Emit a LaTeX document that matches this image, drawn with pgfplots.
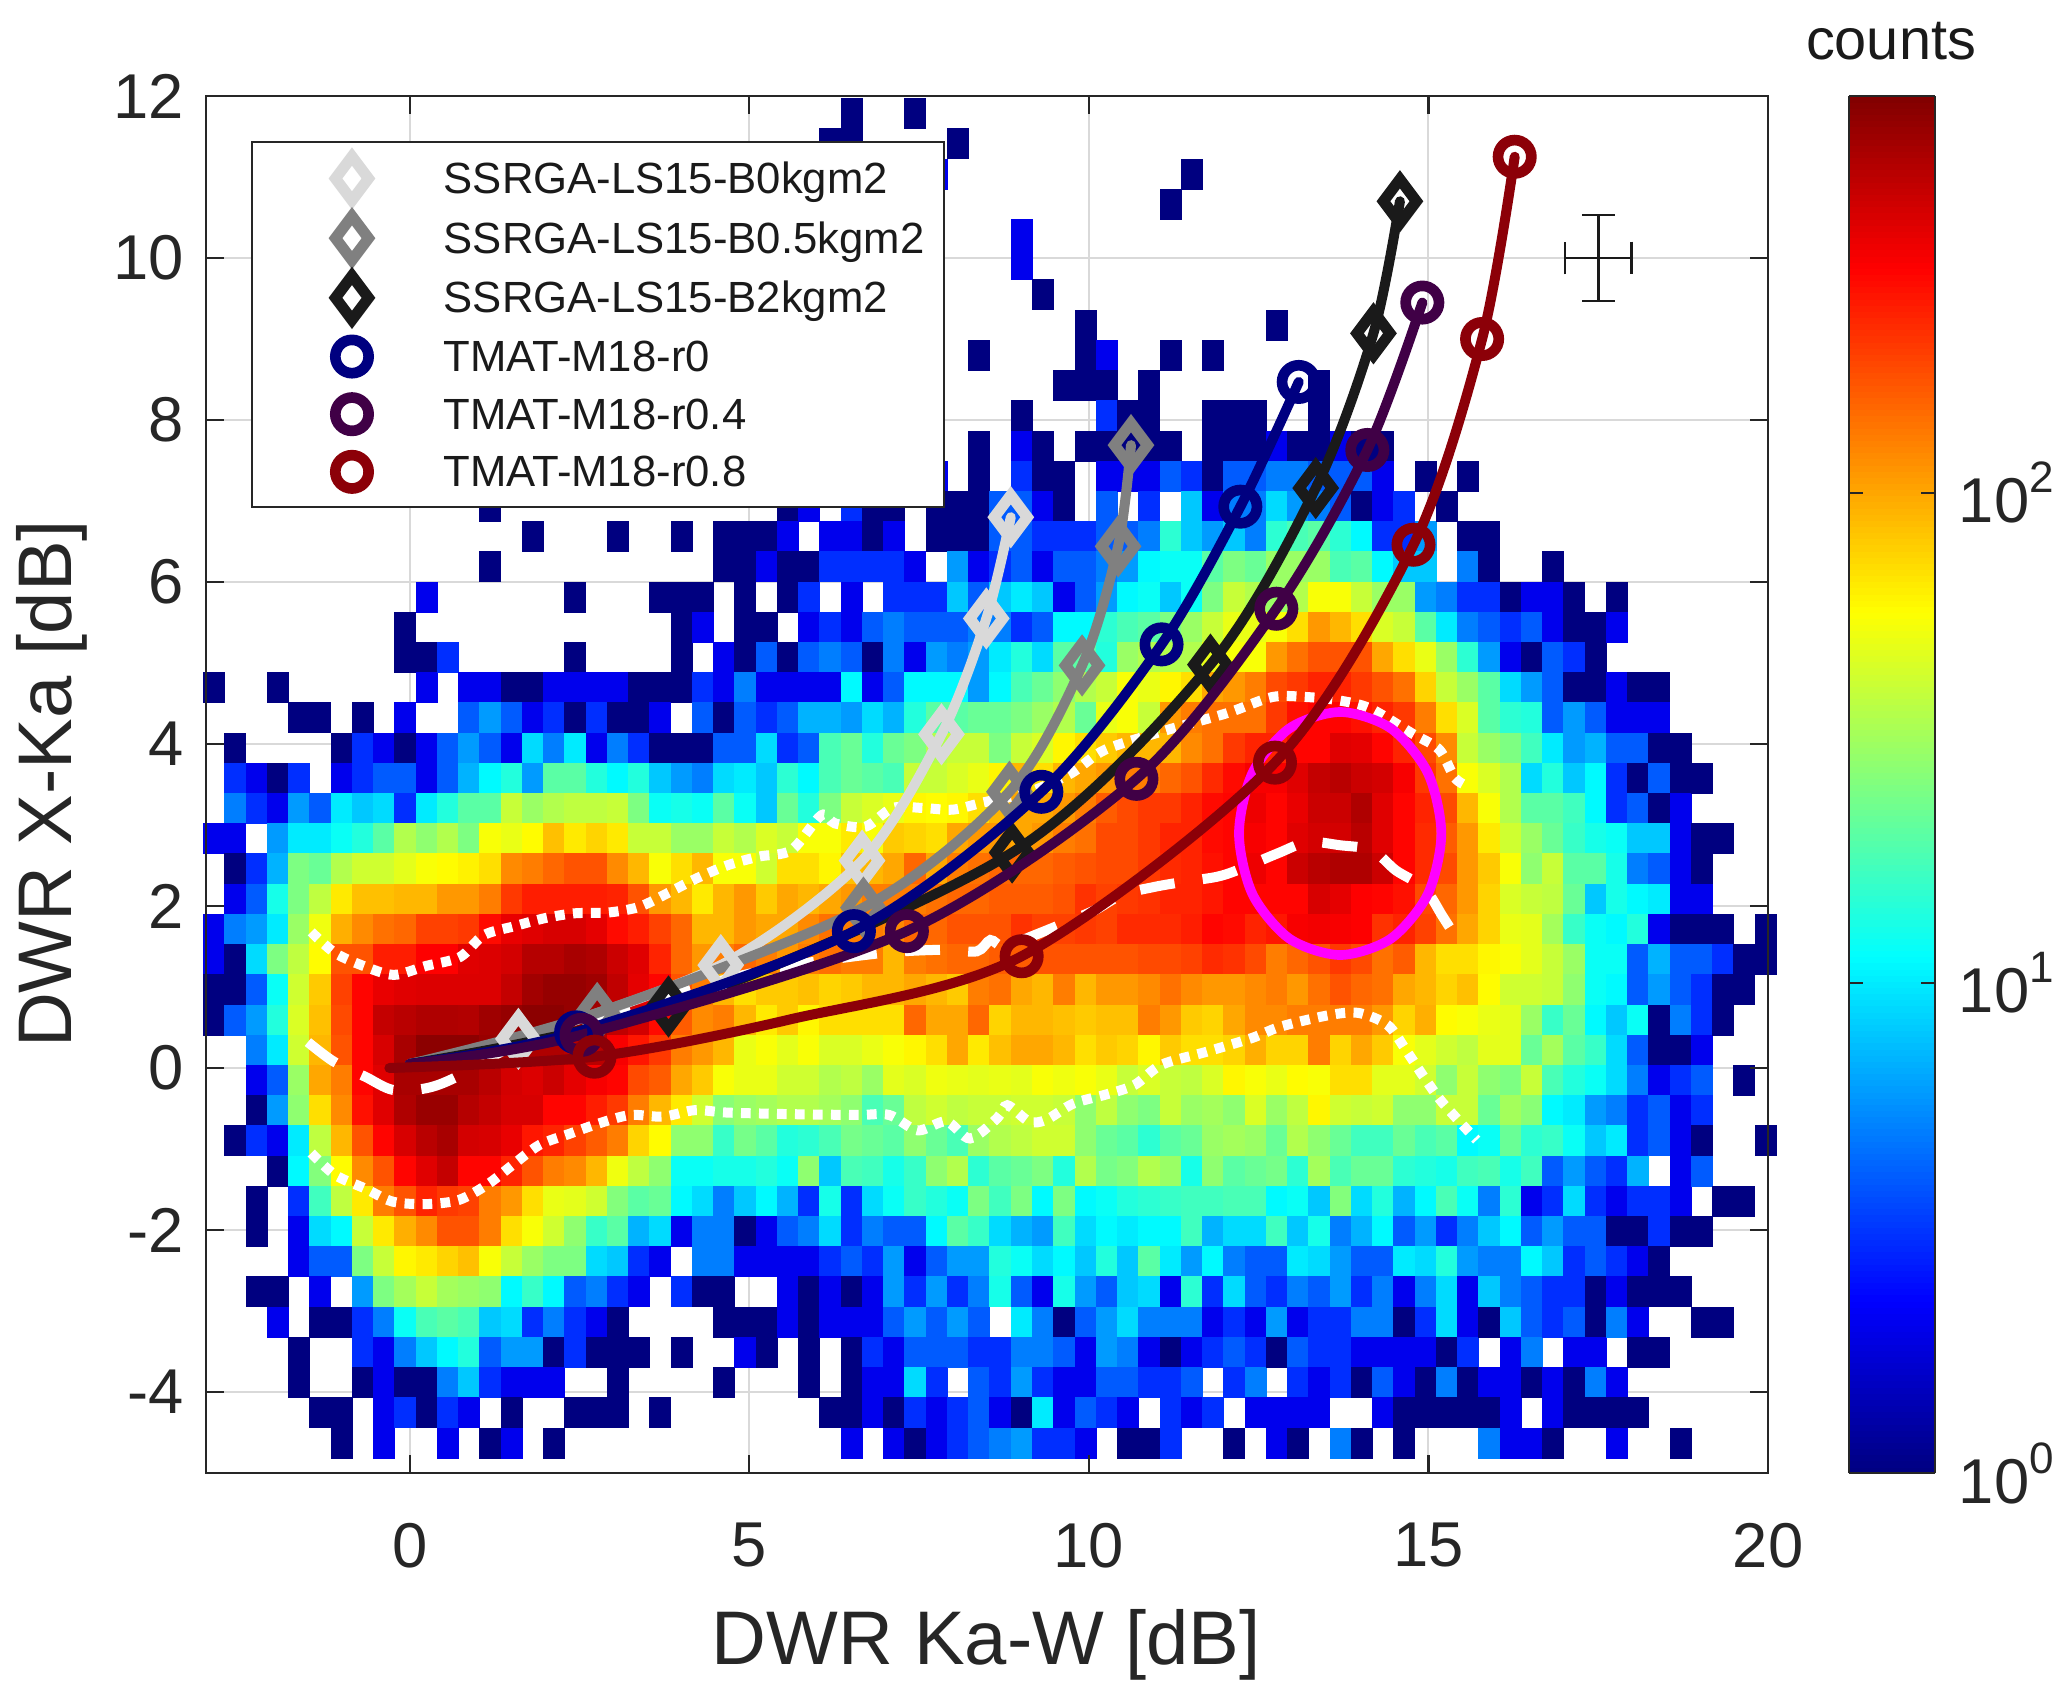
\documentclass[border=0pt]{standalone}
\usepackage{fontspec}
\setmainfont{Liberation Sans}
\usepackage{pgfplots}
\usepackage{pgfplotstable}
\pgfplotsset{compat=1.18}
\definecolor{lgray}{RGB}{217,217,217}
\definecolor{mgray}{RGB}{128,128,128}
\definecolor{kgray}{RGB}{26,26,26}
\definecolor{navyc}{RGB}{0,0,128}
\definecolor{purpc}{RGB}{64,0,70}
\definecolor{redc}{RGB}{140,0,8}
\definecolor{pinkc}{RGB}{255,0,255}
\definecolor{txt}{RGB}{38,38,38}
\pgfdeclareplotmark{cell}{\pgfpathrectangle{\pgfqpoint{-3.3pt}{-4.65pt}}{\pgfqpoint{6.6pt}{9.3pt}}\pgfusepathqfill}
% counts per bin: first column is the y centre, then 74 bins of DWR Ka-W
\pgfplotstableread{
12.155 0 0 0 0 0 0 0 0 0 0  0 0 0 0 0 0 0 0 0 0  0 0 0 0 0 0 0 0 0 0  0 0 0 0 0 0 0 0 0 0  0 0 0 0 0 0 0 1 0 0  0 0 0 0 0 0 0 0 0 0  0 0 0 0 0 0 0 0 0 0  0 0 0 0
11.782 0 0 0 0 0 0 0 0 0 0  0 0 0 0 0 0 0 0 0 0  0 0 0 0 0 0 0 0 0 0  1 0 0 1 0 0 0 0 0 0  0 0 0 0 0 0 0 0 0 0  0 0 0 0 0 0 0 0 0 0  0 0 0 0 0 0 0 0 0 0  0 0 0 0
11.409 0 0 0 0 0 0 0 0 0 0  0 0 0 0 0 0 0 0 0 0  0 0 0 0 0 0 0 0 0 1  1 0 0 0 0 1 0 0 0 0  0 0 0 0 0 0 0 0 0 0  0 0 0 0 0 0 0 0 0 0  0 0 0 0 0 0 0 0 0 0  0 0 0 0
11.036 0 0 0 0 0 0 0 0 0 0  0 0 0 0 0 0 0 0 0 0  0 0 0 0 0 0 0 0 0 0  0 0 0 0 2 0 0 0 0 0  0 0 0 0 0 0 1 0 0 0  0 0 0 0 0 0 0 0 0 0  0 0 0 0 0 0 0 0 0 0  0 0 0 0
10.663 0 0 0 0 0 0 0 0 0 0  0 0 0 0 0 0 0 0 0 0  0 0 0 0 0 0 0 0 0 0  0 0 0 0 0 0 0 0 0 0  0 0 0 0 0 1 0 0 0 0  0 0 0 0 0 0 0 0 0 0  0 0 0 0 0 0 0 0 0 0  0 0 0 0
10.290 0 0 0 0 0 0 0 0 0 0  0 0 0 0 0 0 0 0 0 0  0 0 0 0 0 0 0 0 0 0  0 0 0 0 0 0 0 0 2 0  0 0 0 0 0 0 0 0 0 0  0 0 0 0 0 0 0 0 0 0  0 0 0 0 0 0 0 0 0 0  0 0 0 0
9.917 0 0 0 0 0 0 0 0 0 0  0 0 0 0 0 0 0 0 0 0  0 0 0 0 0 0 0 0 0 0  0 0 0 0 0 0 0 0 2 0  0 0 0 0 0 0 0 0 0 0  0 0 0 0 0 0 0 0 0 0  0 0 0 0 0 0 0 0 0 0  0 0 0 0
9.544 0 0 0 0 0 0 0 0 0 0  0 0 0 0 0 0 0 0 0 0  0 0 0 0 0 0 0 0 0 0  0 0 0 0 0 0 0 0 0 1  0 0 0 0 0 0 0 0 0 0  0 0 0 0 0 0 0 0 0 0  0 0 0 0 0 0 0 0 0 0  0 0 0 0
9.171 0 0 0 0 0 0 0 0 0 0  0 0 0 0 0 0 0 0 0 0  0 0 0 0 0 0 0 0 0 0  0 0 0 0 0 0 0 0 0 0  0 1 0 0 0 0 0 0 0 0  1 0 0 0 0 0 0 0 0 0  0 0 0 0 0 0 0 0 0 0  0 0 0 0
8.798 0 0 0 0 0 0 0 0 0 0  0 0 0 0 0 0 0 0 0 0  0 0 0 0 0 0 0 0 0 0  0 0 0 0 0 0 1 0 0 0  0 1 2 0 0 1 0 1 0 0  0 0 0 0 0 0 0 0 0 0  0 0 0 0 0 0 0 0 0 0  0 0 0 0
8.425 0 0 0 0 0 0 0 0 0 0  0 0 0 0 0 0 0 0 0 0  0 0 0 0 0 0 0 0 0 0  0 0 0 0 0 0 0 0 0 0  1 1 1 0 1 0 0 0 0 0  0 0 1 0 0 0 0 0 0 0  0 0 0 0 0 0 0 0 0 0  0 0 0 0
8.052 0 0 0 0 0 0 0 0 0 0  0 0 0 0 0 0 0 0 0 0  0 0 0 0 0 0 0 0 0 0  0 0 0 0 0 0 0 0 1 0  0 0 3 1 1 0 0 1 1 1  0 0 1 0 0 0 0 0 0 0  0 0 0 0 0 0 0 0 0 0  0 0 0 0
7.679 0 0 0 0 0 0 0 0 0 0  0 0 0 0 0 0 0 0 0 0  0 0 0 0 0 0 0 0 0 0  0 0 0 0 0 0 1 0 2 1  0 1 1 1 1 1 0 1 1 1  2 1 1 2 1 1 0 0 0 0  0 0 0 0 0 0 0 0 0 0  0 0 0 0
7.306 0 0 0 0 0 0 0 0 0 0  0 0 0 0 0 0 0 0 0 0  0 0 0 0 0 0 0 0 0 0  0 0 0 0 2 0 1 0 3 1  1 0 2 2 2 4 3 1 4 4  5 5 4 4 4 2 0 1 0 1  0 0 0 0 0 0 0 0 0 0  0 0 0 0
6.933 0 0 0 0 0 0 0 0 0 0  0 0 0 1 0 0 0 0 0 0  0 0 0 0 0 0 0 1 2 0  3 1 1 0 1 1 1 4 4 2  1 0 4 0 3 0 8 2 5 5  9 6 5 4 1 2 3 0 1 0  0 0 0 0 0 0 0 0 0 0  0 0 0 0
6.560 0 0 0 0 0 0 0 0 0 0  0 0 0 0 0 1 0 0 0 1  0 0 1 0 1 1 1 2 0 2  2 1 2 0 1 1 1 4 4 3  3 3 4 4 5 15 8 6 8 5  15 18 20 15 11 3 3 6 0 1  1 0 0 0 0 0 0 0 0 0  0 0 0 0
6.187 0 0 0 0 0 0 0 0 0 0  0 0 0 1 0 0 0 0 0 0  0 0 0 0 1 1 2 1 1 3  3 3 3 2 0 6 2 3 4 2  4 4 5 6 11 12 12 20 25 22  30 30 30 18 20 11 8 8 0 5  1 0 0 1 0 0 0 0 0 0  0 0 0 0
5.814 0 0 0 0 0 0 0 0 0 0  2 0 0 0 0 0 0 1 0 0  0 1 1 1 0 1 0 1 3 0  2 0 3 3 3 8 4 8 10 8  2 4 6 11 12 8 12 25 40 35  30 35 55 55 40 30 30 6 5 3  3 1 2 2 1 0 1 0 0 0  0 0 0 0
5.441 0 0 0 0 0 0 0 0 0 1  0 0 0 0 0 0 0 0 0 0  0 0 1 2 0 1 1 0 2 3  2 4 5 4 4 4 5 5 3 4  11 11 15 18 20 25 30 40 50 50  55 70 110 90 70 45 40 20 10 5  4 3 4 2 1 1 2 0 0 0  0 0 0 0
5.068 0 0 0 0 0 0 0 0 0 1  1 3 0 0 0 0 0 1 0 0  0 0 1 0 2 1 4 1 4 5  4 1 5 2 6 5 6 10 14 9  20 20 14 30 35 35 35 50 55 55  110 140 170 170 170 100 70 50 30 15  6 2 1 4 3 1 0 0 0 0  0 0 0 0
4.695 1 0 0 1 0 0 0 0 0 0  2 0 2 2 1 1 2 2 2 2  1 1 1 3 2 5 2 2 2 2  11 2 4 11 11 11 6 11 18 22  28 35 40 55 50 60 70 100 110 130  180 200 230 230 200 170 140 75 40 30  20 9 6 4 1 1 2 1 1 0  0 0 0 0
4.322 0 0 0 0 1 1 0 1 0 2  0 0 4 6 4 2 3 1 3 1  1 2 0 4 1 4 3 4 7 7  6 9 7 14 20 20 22 22 25 30  35 22 50 55 40 110 130 140 140 140  200 260 280 280 260 230 200 130 70 45  20 15 14 4 6 4 2 2 2 0  0 0 0 0
3.949 0 1 0 0 0 0 1 3 2 1  2 4 6 4 2 9 5 10 2 5  3 1 1 1 4 4 9 3 4 18  22 14 22 25 35 40 40 25 40 45  60 70 80 90 90 90 120 140 200 230  230 280 280 350 340 280 230 180 120 40  30 25 17 10 6 7 4 4 1 1  0 0 0 0
3.576 0 3 2 1 3 0 2 3 4 4  2 4 7 11 14 6 20 20 14 11  14 8 6 5 9 10 8 15 11 18  22 20 18 40 40 45 50 60 90 70  90 100 110 130 130 150 170 220 270 300  300 350 420 450 400 380 300 200 140 55  45 35 9 14 8 11 3 1 4 1  1 0 0 0
3.203 0 5 3 2 6 4 10 8 9 3  10 14 20 20 40 30 35 38 38 40  25 12 13 12 20 12 8 22 14 25  40 45 50 60 58 60 70 90 100 100  110 130 160 180 200 200 230 270 280 320  280 330 400 400 480 350 280 230 180 90  55 35 20 20 17 11 3 4 1 2  0 0 0 0
2.830 2 2 0 6 10 10 12 14 20 35  28 35 25 55 50 58 85 65 75 65  40 40 30 30 40 35 45 40 55 55  65 55 80 75 70 100 110 110 100 110  130 140 180 180 200 230 230 270 280 300  280 350 380 380 450 350 280 220 160 110  65 42 30 22 16 13 12 8 8 2  1 1 0 0
2.457 0 1 3 7 25 22 35 42 42 48  55 58 62 70 120 130 150 170 170 120  90 55 70 90 55 55 42 70 70 60  85 90 100 150 100 130 140 150 150 150  160 170 180 180 200 220 230 260 280 320  280 400 450 480 480 400 280 220 180 110  80 55 28 40 20 20 13 5 4 2  1 0 0 0
2.084 0 2 4 13 25 38 65 85 85 90  90 110 110 130 200 240 240 240 240 230  170 110 90 65 90 110 80 100 90 100  110 130 130 130 140 150 150 160 160 160  170 210 190 200 210 230 230 250 280 280  280 280 370 340 290 280 260 180 150 110  75 45 40 38 22 8 13 11 10 2  2 0 0 0
1.711 2 5 6 10 30 52 95 120 140 150  190 190 200 270 330 350 370 370 340 270  240 190 150 90 90 110 100 100 120 140  130 130 120 150 150 170 170 170 210 190  190 200 190 220 220 220 240 280 270 230  250 300 310 300 290 210 230 190 140 100  75 50 48 32 16 12 11 14 2 1  1 1 0 1
1.338 2 1 9 25 38 58 170 170 240 240  290 290 350 360 380 460 460 500 480 400  350 230 150 110 130 150 130 110 130 140  130 130 90 130 140 150 150 160 160 170  170 170 170 170 180 180 190 220 210 180  130 150 170 200 180 140 160 90 70 70  60 55 48 40 30 12 12 4 7 4  4 3 1 1
0.965 1 1 4 12 42 80 190 280 330 350  360 360 360 360 420 520 560 560 530 430  340 280 170 130 90 70 80 80 85 75  80 90 90 100 90 80 130 140 100 90  130 90 110 110 120 140 120 110 110 120  130 110 140 170 150 140 100 90 75 85  58 42 42 40 28 12 11 4 6 4  3 1 1 0
0.592 1 4 6 14 45 85 180 280 420 450  480 480 470 530 560 600 600 560 520 430  380 270 160 120 130 90 65 80 60 70  70 70 70 150 100 100 150 75 90 90  85 80 85 85 130 110 80 75 100 120  120 130 130 130 130 110 75 95 58 55  50 48 30 16 22 11 8 12 1 5  3 1 0 0
0.219 0 0 5 10 42 90 170 280 370 500  600 600 600 550 500 480 480 450 450 300  250 200 130 110 90 50 55 48 55 45  45 50 55 60 70 100 65 85 100 100  90 70 80 75 60 80 70 70 75 95  75 75 130 75 100 80 55 48 42 38  48 48 22 32 20 16 9 4 1 1  2 0 0 0
-0.154 0 0 2 4 30 100 130 280 350 500  500 500 500 450 380 360 400 340 300 280  180 160 100 80 55 50 50 42 42 35  38 30 48 45 52 50 48 50 48 55  52 55 50 40 45 40 38 45 60 55  50 58 55 70 70 48 48 42 28 40  28 25 40 18 14 12 9 5 2 3  4 0 1 0
-0.527 0 0 1 6 28 70 120 260 350 480  550 550 460 420 370 370 280 280 240 200  130 90 65 42 27 30 32 35 35 32  28 18 22 38 42 38 40 40 42 42  40 28 38 28 25 40 30 32 28 45  30 38 60 42 40 42 28 28 40 40  22 32 27 11 10 6 5 3 4 2  3 0 0 0
-0.900 0 1 3 2 10 38 90 170 280 370  450 500 380 370 330 250 230 190 160 130  75 58 28 28 16 24 20 14 15 18  24 22 20 28 22 18 30 35 38 42  42 28 22 20 15 20 22 30 32 30  22 35 28 22 17 17 22 18 20 11  12 22 15 16 12 8 10 3 4 2  1 0 0 1
-1.273 0 0 0 1 11 26 58 120 170 280  350 420 280 280 230 170 130 120 90 52  38 28 12 12 13 13 14 12 28 8  18 17 13 16 28 35 15 20 22 25  14 35 24 26 35 30 13 28 20 22  24 15 32 18 22 22 15 14 13 17  18 13 17 4 6 4 3 7 0 2  4 0 0 0
-1.646 0 0 1 0 3 17 38 65 130 170  230 200 190 130 110 70 50 48 42 26  20 22 11 9 5 8 11 7 3 13  3 9 12 16 14 12 25 17 25 11  25 11 12 14 15 16 17 17 18 18  11 12 8 26 9 14 7 11 18 12  5 15 2 3 9 3 2 3 3 2  0 1 1 0
-2.019 0 0 1 0 2 9 11 40 65 95  120 170 170 130 70 55 42 28 16 20  7 9 2 5 5 1 2 4 5 9  3 5 4 4 11 20 16 9 7 6  17 9 11 10 11 11 17 7 9 9  17 8 13 5 7 11 4 6 3 5  8 11 4 6 4 4 1 1 3 1  1 0 0 0
-2.392 0 0 0 0 2 4 4 25 40 60  65 75 85 55 40 30 25 25 9 8  3 2 0 5 5 2 2 2 2 3  4 3 6 2 4 6 6 14 12 9  11 8 14 8 20 10 6 11 5 4  4 10 9 6 4 4 10 9 14 6  5 5 11 8 3 4 3 2 1 0  0 0 0 0
-2.765 0 0 1 1 0 2 0 6 25 32  40 32 30 28 11 16 11 4 5 3  2 0 3 1 1 0 0 2 1 2  1 2 6 3 6 3 5 13 4 2  13 6 4 8 9 2 15 3 9 4  3 5 4 6 3 5 2 5 9 2  8 5 4 3 3 1 2 1 1 1  0 0 0 0
-3.138 0 0 0 2 0 1 1 3 5 12  18 20 18 8 9 3 5 3 2 1  0 0 0 0 1 1 1 2 1 2  2 2 4 6 4 6 4 0 10 5  1 4 6 9 5 5 5 2 3 2  6 2 3 3 5 5 1 3 9 2  1 8 4 3 4 1 5 2 0 0  1 1 0 0
-3.511 0 0 0 0 1 0 0 3 2 5  8 11 14 4 6 6 1 3 1 1  1 0 1 0 0 2 1 0 1 0  1 3 2 4 4 4 3 3 5 5  4 2 6 5 2 1 2 3 4 3  1 4 3 3 2 2 2 2 1 3  0 2 5 0 2 2 0 1 1 0  0 0 0 0
-3.884 0 0 0 0 1 0 0 1 2 1  1 5 8 3 2 2 2 0 0 1  0 0 0 0 1 0 0 0 1 0  1 2 2 9 3 0 4 3 6 3  2 2 4 4 3 3 4 0 3 5  0 3 2 3 1 4 2 1 5 1  2 2 1 2 1 5 2 0 0 0  0 0 0 0
-4.257 0 0 0 0 0 1 1 0 2 3  1 3 2 0 1 0 0 1 1 1  0 1 0 0 0 0 0 0 0 1  1 2 1 3 2 3 4 2 1 10  2 4 3 2 0 3 2 3 0 2  2 2 2 0 0 2 1 1 1 1  1 2 0 2 1 1 1 1 0 0  0 0 0 0
-4.630 0 0 0 0 0 0 1 0 2 0  0 2 0 1 2 0 1 0 0 0  0 0 0 0 0 0 0 0 0 0  2 0 2 1 2 3 4 5 6 3  3 2 0 1 1 3 0 0 1 0  2 1 0 5 1 0 1 0 0 0  5 2 2 1 0 0 2 0 0 1  0 0 0 0
-5.003 0 0 0 0 0 0 0 2 0 0  0 2 2 0 0 0 0 0 0 0  0 0 0 0 0 0 1 0 0 0  0 1 0 0 2 1 2 2 1 3  2 5 2 3 2 3 0 0 1 1  1 0 3 0 0 1 0 1 2 0  1 1 1 0 0 0 0 0 0 0  0 0 0 0
}\heat
\pgfplotsset{
  frame/.style={scale only axis,width=468.6pt,height=413.1pt,
    xmin=-3,xmax=20,ymin=-5,ymax=12,at={(0pt,0pt)},anchor=south west,
    xtick={0,5,10,15,20},ytick={-4,-2,0,2,4,6,8,10,12}},
  curve/.style={no markers,forget plot,smooth,line width=3pt,line cap=round,color=#1},
  dia/.style={only marks,mark=diamond,mark size=6.6pt,
    mark options={solid,draw=#1,fill=none,line width=3.3pt}},
  circ/.style={only marks,mark=o,mark size=5pt,
    mark options={solid,draw=#1,fill=none,line width=3.2pt}},
}
\begin{document}
\begin{tikzpicture}
\path[use as bounding box] (-61.8pt,-67.8pt) rectangle (558.3pt,441.9pt);
% histogram, with the grid under it and the colour bar
\begin{axis}[frame,
  major tick length=0pt,xticklabel=\empty,yticklabel=\empty,
  grid=major,grid style={color=lgray,line width=.6pt},
  axis line style={draw=none},
  point meta min=0,point meta max=2.81,colormap/jet,
  unbounded coords=discard,filter discard warning=false,
  colorbar sampled,
  colorbar style={at={(1.0519,1)},anchor=north west,width=25.8pt,samples=225,
    ytick={0,1,2},
    yticklabels={10\raisebox{9pt}{\fontsize{13.2pt}{13.2pt}\selectfont 0},
                 10\raisebox{9pt}{\fontsize{13.2pt}{13.2pt}\selectfont 1},
                 10\raisebox{9pt}{\fontsize{13.2pt}{13.2pt}\selectfont 2}},
    tick align=inside,major tick length=4.2pt,
    tick style={color=txt,line width=.6pt},
    axis line style={color=txt,line width=.7pt},
    yticklabel style={font=\fontsize{19pt}{19pt}\selectfont,text=txt,xshift=3.6pt}},
]
\pgfplotsinvokeforeach{1,...,74}{
  \addplot[forget plot,scatter,only marks,mark=cell,point meta=explicit,
    mark options={solid,line width=0pt}]
    table[x expr={-2.881+0.31296*(#1-1)},
          y expr={\thisrowno{#1}>0 ? \thisrowno{0} : nan},
          meta expr={log10(max(\thisrowno{#1},1))}] {\heat};
}
\end{axis}
% percentile lines, ellipse and the SSRGA curves
\begin{axis}[frame,hide axis]
\addplot[forget plot,no markers,smooth,white,line width=3pt,dash pattern=on 2.9pt off 2.5pt] coordinates {
(-1.45,1.68)(-1.1,1.42)(-.65,1.25)(-.23,1.15)(.24,1.26)(.74,1.37)(1.09,1.64)(1.54,1.75)(1.99,1.85)(2.43,1.91)(2.93,1.92)(3.38,1.99)(3.8,2.16)(4.22,2.34)(4.67,2.5)(5.14,2.61)(5.62,2.69)(6.06,3.12)(6.26,3.02)(6.71,2.98)(7.11,3.21)(7.56,3.21)(8,3.19)(8.45,3.28)(9.1,3.4)(9.74,3.64)(10.24,3.93)(11.14,4.17)(12.03,4.38)(12.7,4.58)(13.2,4.58)(13.67,4.54)(14.14,4.44)(14.76,4.13)(15.16,3.93)(15.39,3.58)(15.6,3.47)};
\addplot[forget plot,no markers,smooth,white,line width=3pt,dash pattern=on 2.9pt off 2.5pt] coordinates {
(-1.45,-1.05)(-1.1,-1.32)(-.65,-1.49)(-.25,-1.65)(.24,-1.68)(.72,-1.63)(1.14,-1.44)(1.51,-1.2)(1.91,-.95)(2.36,-.81)(2.8,-.68)(3.25,-.58)(3.73,-.6)(4.2,-.52)(4.67,-.55)(5.64,-.57)(6.58,-.58)(7.06,-.58)(7.48,-.77)(7.9,-.66)(8.25,-.87)(8.65,-.62)(8.8,-.46)(9.12,-.66)(9.37,-.64)(9.77,-.44)(10.24,-.33)(10.67,-.21)(11.07,.04)(11.73,.2)(12.4,.37)(12.82,.51)(13.52,.65)(13.97,.68)(14.4,.53)(14.67,.22)(14.94,-.12)(15.21,-.43)(15.71,-.89)};
\addplot[forget plot,no markers,smooth,white,line width=3pt,dash pattern=on 10.5pt off 8.5pt] coordinates {
(-1.5,.32)(-1.12,.08)(-.65,-.11)(-.25,-.27)(.24,-.25)(.69,-.11)(1.73,.36)(3.09,.71)(4.64,1.09)(5.64,1.27)(6.96,1.42)(7.85,1.46)(8.35,1.44)(8.55,1.58)(8.75,1.5)(9.2,1.64)(9.64,1.79)(10.09,1.95)(10.49,2.14)(10.99,2.24)(11.41,2.3)(11.88,2.36)(12.18,2.44)(12.78,2.65)(13.22,2.79)(13.7,2.75)(14.17,2.69)(14.52,2.44)(14.94,2.22)(15.21,1.87)(15.46,1.54)};
\addplot[forget plot,no markers,smooth cycle,pinkc,line width=2.9pt] coordinates {
(15.19,2.895)(14.99,3.645)(14.445,4.194)(13.7,4.395)(12.955,4.194)(12.41,3.645)(12.21,2.895)(12.41,2.145)(12.955,1.596)(13.7,1.395)(14.445,1.596)(14.99,2.145)};
\addplot[curve=lgray] coordinates {(0,.05)(1.6,.36)(4.58,1.27)(6.66,2.56)(7.83,4.12)(8.49,5.55)(8.85,6.8)};
\addplot[forget plot,dia=lgray] coordinates {(1.6,.36)(4.58,1.27)(6.66,2.56)(7.83,4.12)(8.49,5.55)(8.85,6.8)};
\addplot[curve=mgray] coordinates {(0,.05)(2.76,.68)(6.68,1.98)(8.83,3.41)(9.9,4.97)(10.43,6.44)(10.62,7.69)};
\addplot[forget plot,dia=mgray] coordinates {(2.76,.68)(6.68,1.98)(8.83,3.41)(9.9,4.97)(10.43,6.44)(10.62,7.69)};
\addplot[curve=kgray] coordinates {(0,.05)(3.81,.76)(8.87,2.66)(11.79,4.98)(13.34,7.16)(14.19,9.07)(14.58,10.7)};
\addplot[forget plot,dia=kgray] coordinates {(3.81,.76)(8.87,2.66)(11.79,4.98)(13.34,7.16)(14.19,9.07)(14.58,10.7)};
\end{axis}
% TMAT curves, error cross and the legend
\begin{axis}[frame,hide axis,
  legend style={at={(0.0288,0.9673)},anchor=north west,draw=txt,line width=.7pt,
    inner xsep=5.9pt,inner ysep=4.3pt,
    nodes={inner sep=0pt,text height=10.8pt,text depth=1.8pt,anchor=west},
    row sep=4.7pt,font=\fontsize{13.1pt}{13.1pt}\selectfont,text=kgray},
  legend cell align=left,
  legend image code/.code={\draw[#1] plot coordinates {(0pt,0pt)};\path (-23.7pt,-1pt) (27.2pt,1pt);},
]
\addlegendimage{dia=lgray}\addlegendentry{SSRGA-LS15-B0kgm2}
\addlegendimage{dia=mgray}\addlegendentry{SSRGA-LS15-B0.5kgm2}
\addlegendimage{dia=kgray}\addlegendentry{SSRGA-LS15-B2kgm2}
\addlegendimage{circ=navyc}\addlegendentry{TMAT-M18-r0}
\addlegendimage{circ=purpc}\addlegendentry{TMAT-M18-r0.4}
\addlegendimage{circ=redc}\addlegendentry{TMAT-M18-r0.8}
\addplot[curve=navyc] coordinates {(0,.05)(2.45,.44)(6.54,1.69)(9.3,3.41)(11.07,5.23)(12.23,6.93)(13.09,8.47)};
\addplot[forget plot,circ=navyc] coordinates {(2.45,.44)(6.54,1.69)(9.3,3.41)(11.07,5.23)(12.23,6.93)(13.09,8.47)};
\addplot[curve=purpc] coordinates {(0,.05)(2.53,.41)(7.32,1.69)(10.7,3.57)(12.76,5.67)(14.1,7.63)(14.91,9.45)};
\addplot[forget plot,circ=purpc] coordinates {(2.53,.41)(7.32,1.69)(10.7,3.57)(12.76,5.67)(14.1,7.63)(14.91,9.45)};
\addplot[curve=redc] coordinates {(-.3,0)(2.72,.14)(5.6,.6)(9.01,1.38)(12.74,3.77)(14.78,6.46)(15.79,9)(16.27,11.25)};
\addplot[forget plot,circ=redc] coordinates {(2.72,.14)(9.01,1.38)(12.74,3.77)(14.78,6.46)(15.79,9)(16.27,11.25)};
\addplot[forget plot,no markers,color=kgray,line width=.8pt,
  error bars/.cd,x dir=both,y dir=both,x fixed=.49,y fixed=.53,
  error mark options={rotate=90,mark size=4.9pt,line width=.8pt,color=kgray},
  error bar style={line width=.8pt,color=kgray}] coordinates {(17.5,10)};
\end{axis}
% frame, ticks and tick labels on top
\begin{axis}[frame,
  xticklabels={0,5,10,15,20},yticklabels={-4,-2,0,2,4,6,8,10,12},
  tick align=inside,major tick length=5.4pt,
  tick style={color=txt,line width=.7pt},
  axis line style={color=txt,line width=.7pt},
  tick label style={font=\fontsize{19pt}{19pt}\selectfont,text=txt},
  xticklabel style={yshift=-11.4pt},
  yticklabel style={xshift=-3.2pt},
]
\end{axis}
\node[font=\fontsize{22.8pt}{22.8pt}\selectfont,text=txt] at (234pt,-51.6pt) {DWR Ka-W [dB]};
\node[font=\fontsize{22.8pt}{22.8pt}\selectfont,text=txt,rotate=90] at (-46.2pt,206.7pt) {DWR X-Ka [dB]};
\node[font=\fontsize{17.3pt}{17.3pt}\selectfont,text=kgray,anchor=base] at (505.5pt,424pt) {counts};
\end{tikzpicture}
\end{document}
